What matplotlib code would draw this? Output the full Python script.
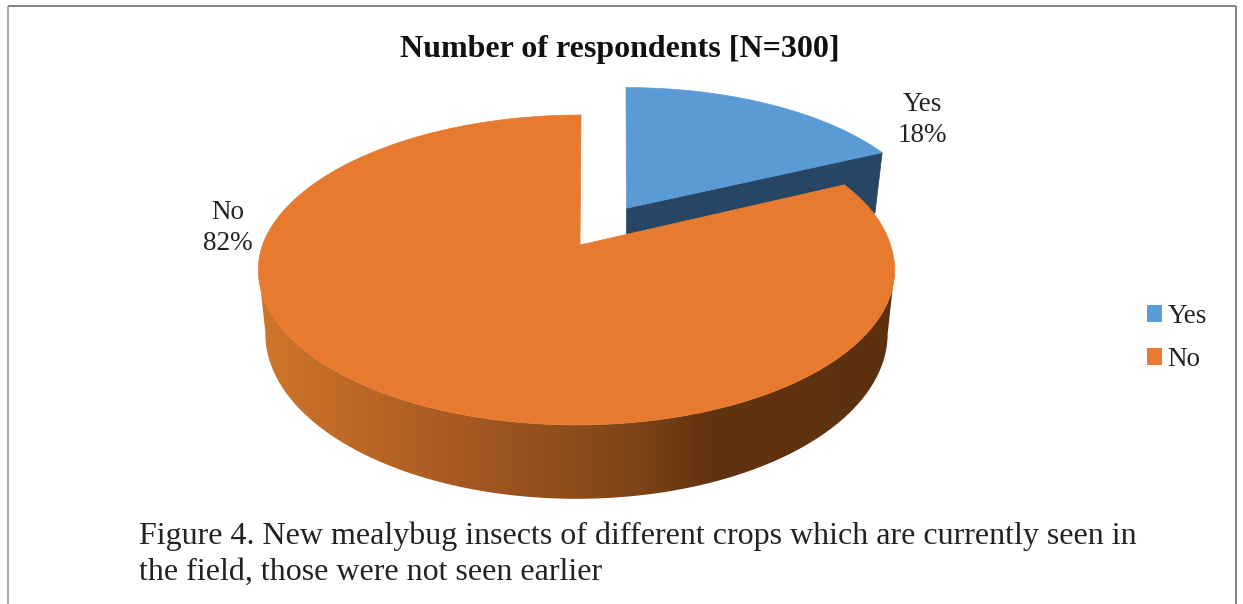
import numpy as np
import matplotlib
matplotlib.use("Agg")
import matplotlib.pyplot as plt
from matplotlib.colors import LinearSegmentedColormap
from matplotlib.patches import Patch, Polygon

plt.rcParams["font.family"] = ["Liberation Serif", "DejaVu Serif"]

categories = ["Yes", "No"]
shares = [18, 82]
title = "Number of respondents [N=300]"
caption = [
    "Figure 4. New mealybug insects of different crops which are currently seen in",
    "the field, those were not seen earlier",
]

YES_TOP = "#5b9bd5"
YES_SIDE = "#264664"
NO_TOP = "#e87a2f"
NO_SIDE = ["#d0762b", "#a95b22", "#7c4417", "#62330f", "#5c300f"]
NO_SIDE_STOPS = [258, 450, 640, 710, 895]

# perspective of the pie plane, all in pixels
CX, CY = 580.0, 245.0
RX = 314.0
TILT = -111.5
PERSP = 0.161
DEPTH = 62.0
YES_DEPTH = 67.0
BASE_SHRINK = 0.978
EXPLODE = 0.30


def project(u, v, base=False, cx=CX, depth=DEPTH):
    # u, v are on the unit disc, v points to the back of the pie
    w = 1 + PERSP * v
    k = BASE_SHRINK if base else 1.0
    x = cx + k * RX * u / w
    y = (TILT * v + CY) / w
    if base:
        y = y + depth / w
    return x, y


def rim(a0, a1, n=240):
    # clockwise from 12 o'clock, like the slices
    t = np.radians(np.linspace(a0, a1, n))
    return np.sin(t), np.cos(t)


fig = plt.figure(figsize=(12.43, 6.04), dpi=100)
ax = fig.add_axes([0, 0, 1, 1])

# outer frame, open at the bottom
ax.plot([8, 8], [604, 5.5], color="#999999", lw=1.2, solid_capstyle="butt")
ax.plot([8, 1236], [5.5, 5.5], color="#808080", lw=1.4, solid_capstyle="butt")
ax.plot([1236, 1236], [5.5, 604], color="#808080", lw=1.4, solid_capstyle="butt")

yes_angle = 360 * shares[0] / sum(shares)

# Yes slice, pulled out along its bisector, slightly sheared
mid = np.radians(yes_angle / 2)
ou, ov = EXPLODE * np.sin(mid), EXPLODE * np.cos(mid)
u, v = rim(0, yes_angle)
xt, yt = project(u + ou, v + ov)
xt = xt + 6 * (v + ov - 0.588)
ax0, ay0 = project(ou, ov)
ax0 = ax0 + 6 * (ov - 0.588)
bx0, by0 = project(ou, ov, base=True, depth=YES_DEPTH)
bx1, by1 = project(u[-1] + ou, v[-1] + ov, base=True, depth=YES_DEPTH)
ax.add_patch(Polygon([(ax0, ay0), (xt[-1], yt[-1]), (bx1, by1), (ax0, by0)],
                     fc=YES_SIDE, ec=YES_SIDE, lw=0.5, zorder=2))
ax.add_patch(Polygon(np.r_[[(ax0, ay0)], np.c_[xt, yt]],
                     fc=YES_TOP, ec=YES_TOP, lw=0.5, zorder=3))

# No slice, the apex and back of the rim sit a few pixels right of the front
NO_CX = 576.5
u, v = rim(yes_angle, 360)
xt, yt = project(u, v, cx=NO_CX)
xt = xt + 4.5 * np.clip(v, 0, None)
xb, yb = project(u, v, base=True, cx=NO_CX)
xb = xb + 4.5 * np.clip(v, 0, None)

# wall between the widest points of the top face, seen from the front
right = np.argmax(xt)
left = np.argmin(xt)
wall = np.r_[np.c_[xt[right:left + 1], yt[right:left + 1]],
             np.c_[xb[right:left + 1], yb[right:left + 1]][::-1]]
wall_patch = Polygon(wall, fc="none", ec="none", zorder=4)
ax.add_patch(wall_patch)
stops = (np.array(NO_SIDE_STOPS) - NO_SIDE_STOPS[0]) / (NO_SIDE_STOPS[-1] - NO_SIDE_STOPS[0])
side_cmap = LinearSegmentedColormap.from_list("no_side", list(zip(stops, NO_SIDE)))
img = ax.imshow(np.linspace(0, 1, 512)[None, :], cmap=side_cmap, aspect="auto",
                extent=(NO_SIDE_STOPS[0], NO_SIDE_STOPS[-1], 510, 260), zorder=4)
img.set_clip_path(wall_patch)

apex_x, apex_y = project(0, 0, cx=NO_CX + 3.5)
ax.add_patch(Polygon(np.r_[[(apex_x, apex_y)], np.c_[xt, yt]],
                     fc=NO_TOP, ec=NO_TOP, lw=0.5, zorder=5))

ax.set_xlim(0, 1243)
ax.set_ylim(604, 0)
ax.axis("off")

ax.text(620, 49, title, fontsize=23, fontweight="bold", color="#111111",
        ha="center", va="center")

pct = [f"{s}%" for s in shares]
ax.text(922, 120, f"{categories[0]}\n{pct[0]}", fontsize=19.5, color="#222222",
        ha="center", va="center", linespacing=1.3)
ax.text(228, 228, f"{categories[1]}\n{pct[1]}", fontsize=19.5, color="#222222",
        ha="center", va="center", linespacing=1.3)

handles = [Patch(fc=YES_TOP, ec="none"), Patch(fc=NO_TOP, ec="none")]
ax.legend(handles, categories, loc="center left", bbox_to_anchor=(1128, 338),
          bbox_transform=ax.transData, frameon=False, fontsize=19.5,
          handlelength=0.55, handleheight=0.55, handletextpad=0.2,
          labelspacing=0.66, borderpad=0.2, labelcolor="#222222")

ax.text(139, 536, caption[0], fontsize=23, color="#222222", va="center")
ax.text(139, 572, caption[1], fontsize=23, color="#222222", va="center")

fig.savefig("out.png", dpi=100)
